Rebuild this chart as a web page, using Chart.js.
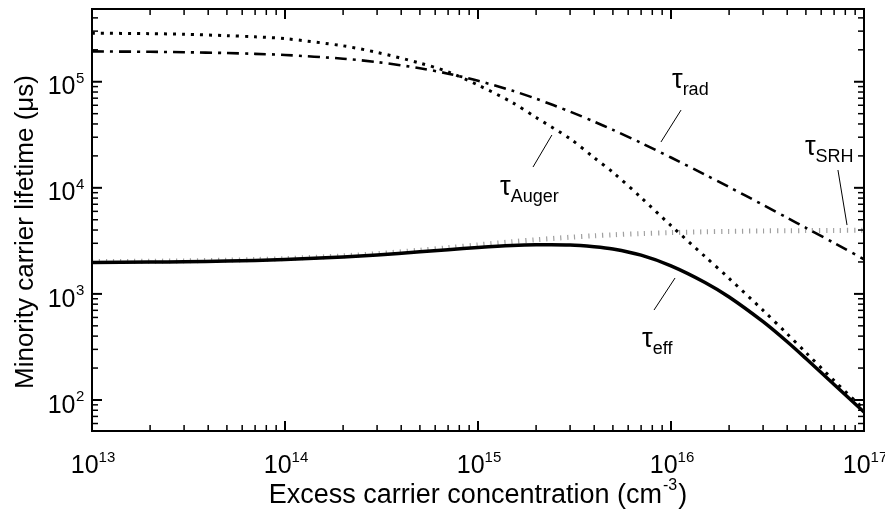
<!DOCTYPE html>
<html>
<head>
<meta charset="utf-8">
<script src="https://cdn.jsdelivr.net/npm/chart.js@4.4.0/dist/chart.umd.min.js"></script>
<style>
  html, body { margin: 0; padding: 0; background: #fff; }
</style>
</head>
<body>
<canvas id="lifetime" width="885" height="512"></canvas>
<script>
// Excess carrier concentration (cm^-3)
const conc = [1e13, 2e13, 3e13, 5e13, 7e13, 1e14, 2e14, 3e14, 5e14, 7e14,
              1e15, 1.5e15, 2e15, 3e15, 4e15, 5e15, 7e15,
              1e16, 1.5e16, 2e16, 3e16, 4e16, 5e16, 7e16, 1e17];

// Lifetimes (µs)
const tauSRH   = [2016, 2032, 2048, 2079, 2109, 2152, 2282, 2395, 2582, 2729,
                  2900, 3103, 3242, 3422, 3533, 3608, 3703,
                  3783, 3850, 3885, 3922, 3941, 3952, 3966, 3976];
const tauRad   = [193200, 191500, 189800, 186500, 183300, 178800, 165000, 153200, 134100, 119200,
                  102100, 82500, 69200, 52300, 42060, 35200, 26500,
                  19300, 13320, 10170, 6900, 5220, 4200, 3020, 2120];
const tauAuger = [287000, 284000, 280000, 272000, 265000, 255000, 218000, 189000, 150000, 124000,
                  93000, 64000, 46000, 29000, 19200, 14000, 8100,
                  4400, 2250, 1400, 700, 420, 280, 152, 82];
const tauEff   = [1980, 1997, 2011, 2041, 2069, 2109, 2228, 2329, 2491, 2612,
                  2737, 2857, 2902, 2892, 2786, 2653, 2319,
                  1840, 1283, 935, 547, 354, 246, 140, 77];

// axis decades (exponents)
const xDecades = [13, 14, 15, 16, 17];
const yDecades = [2, 3, 4, 5];

// curve labels: [log10 n, log10 tau] for text and leader line
const curveLabels = [
  { sub: 'rad',   at: [16.005, 4.945], line: [[16.052, 4.733], [15.948, 4.432]] },
  { sub: 'Auger', at: [15.114, 3.932], line: [[15.383, 4.498], [15.285, 4.196]] },
  { sub: 'SRH',   at: [16.694, 4.309], line: [[16.865, 4.168], [16.912, 3.649]] },
  { sub: 'eff',   at: [15.850, 2.500], line: [[16.021, 3.150], [15.912, 2.848]] }
];

const FONT = '"Liberation Sans", Arial, Helvetica, sans-serif';
const pts = ys => conc.map((x, i) => ({ x, y: ys[i] }));

// frame, inward ticks, tick labels, titles and curve labels
const decorations = {
  id: 'decorations',
  afterDraw(chart) {
    const { ctx, chartArea: a, scales: { x, y } } = chart;
    ctx.save();
    ctx.strokeStyle = '#000';
    ctx.fillStyle = '#000';

    // ticks
    const tick = (x1, y1, x2, y2, w) => {
      ctx.lineWidth = w;
      ctx.beginPath(); ctx.moveTo(x1, y1); ctx.lineTo(x2, y2); ctx.stroke();
    };
    for (let d = xDecades[0]; d <= xDecades[xDecades.length - 1]; d++) {
      for (let m = 1; m <= 9; m++) {
        const v = m * Math.pow(10, d);
        if (v < x.min || v > x.max) continue;
        const px = x.getPixelForValue(v);
        const len = m === 1 ? 10 : 6;
        tick(px, a.bottom, px, a.bottom - len, m === 1 ? 2 : 1.5);
        tick(px, a.top, px, a.top + len, m === 1 ? 2 : 1.5);
      }
    }
    for (let d = 1; d <= 5; d++) {
      for (let m = 1; m <= 9; m++) {
        const v = m * Math.pow(10, d);
        if (v < y.min || v > y.max) continue;
        const py = y.getPixelForValue(v);
        const len = m === 1 ? 10 : 6;
        tick(a.left, py, a.left + len, py, m === 1 ? 2 : 1.5);
        tick(a.right, py, a.right - len, py, m === 1 ? 2 : 1.5);
      }
    }

    // frame
    ctx.lineWidth = 2;
    ctx.strokeRect(a.left, a.top, a.right - a.left, a.bottom - a.top);

    // tick labels 10^n
    const big = '25px ' + FONT, small = '15px ' + FONT;
    ctx.textBaseline = 'alphabetic';
    ctx.textAlign = 'left';
    xDecades.forEach(d => {
      ctx.font = big; const w1 = ctx.measureText('10').width;
      ctx.font = small; const w2 = ctx.measureText(String(d)).width;
      const x0 = x.getPixelForValue(Math.pow(10, d)) - (w1 + w2) / 2 + 1;
      ctx.font = big; ctx.fillText('10', x0, 473);
      ctx.font = small; ctx.fillText(String(d), x0 + w1, 462);
    });
    yDecades.forEach(d => {
      const py = y.getPixelForValue(Math.pow(10, d));
      ctx.font = big; const w1 = ctx.measureText('10').width;
      ctx.fillText('10', 75.5 - w1, py + 12.6);
      ctx.font = small; ctx.fillText(String(d), 76, py + 1.5);
    });

    // axis titles
    ctx.font = '26px ' + FONT;
    ctx.save();
    ctx.translate(33, 232);
    ctx.rotate(-Math.PI / 2);
    ctx.textAlign = 'center';
    ctx.fillText('Minority carrier lifetime (μs)', 0, 0);
    ctx.restore();

    const t1 = 'Excess carrier concentration (cm', t2 = '-3', t3 = ')';
    ctx.font = '27px ' + FONT; const a1 = ctx.measureText(t1).width, a3 = ctx.measureText(t3).width;
    ctx.font = '16px ' + FONT; const a2 = ctx.measureText(t2).width;
    let tx = 477 - (a1 + a2 + a3) / 2;
    ctx.font = '27px ' + FONT; ctx.fillText(t1, tx, 503); tx += a1;
    ctx.font = '16px ' + FONT; ctx.fillText(t2, tx + 1, 490); tx += a2 + 2;
    ctx.font = '27px ' + FONT; ctx.fillText(t3, tx, 503);

    // curve labels
    curveLabels.forEach(l => {
      const px = x.getPixelForValue(Math.pow(10, l.at[0]));
      const py = y.getPixelForValue(Math.pow(10, l.at[1]));
      ctx.font = '27px ' + FONT;
      ctx.fillText('τ', px, py);
      const wt = ctx.measureText('τ').width;
      ctx.font = '18px ' + FONT;
      ctx.fillText(l.sub, px + wt, py + 7);
      const [p, q] = l.line;
      ctx.lineWidth = 1;
      ctx.beginPath();
      ctx.moveTo(x.getPixelForValue(Math.pow(10, p[0])), y.getPixelForValue(Math.pow(10, p[1])));
      ctx.lineTo(x.getPixelForValue(Math.pow(10, q[0])), y.getPixelForValue(Math.pow(10, q[1])));
      ctx.stroke();
    });
    ctx.restore();
  }
};

new Chart(document.getElementById('lifetime'), {
  type: 'line',
  data: {
    datasets: [
      { label: 'τeff',   data: pts(tauEff),   borderColor: '#000', borderWidth: 3.5, order: 0 },
      { label: 'τAuger', data: pts(tauAuger), borderColor: '#000', borderWidth: 3, borderDash: [3, 6], order: 1 },
      { label: 'τrad',   data: pts(tauRad),   borderColor: '#000', borderWidth: 2.6, borderDash: [12, 6, 3, 6], order: 2 },
      { label: 'τSRH',   data: pts(tauSRH),   borderColor: '#a0a0a0', borderWidth: 5, borderDash: [1.2, 5.8], order: 3 }
    ]
  },
  options: {
    responsive: false,
    devicePixelRatio: 1,
    animation: false,
    elements: { point: { radius: 0 }, line: { tension: 0.3, fill: false } },
    layout: { padding: { left: 92, top: 9, right: 21, bottom: 81 } },
    plugins: { legend: { display: false }, tooltip: { enabled: false } },
    scales: {
      x: { type: 'logarithmic', min: 1e13, max: 1e17, display: false },
      y: { type: 'logarithmic', min: 51, max: 4.85e5, display: false }
    }
  },
  plugins: [decorations]
});
</script>
</body>
</html>
